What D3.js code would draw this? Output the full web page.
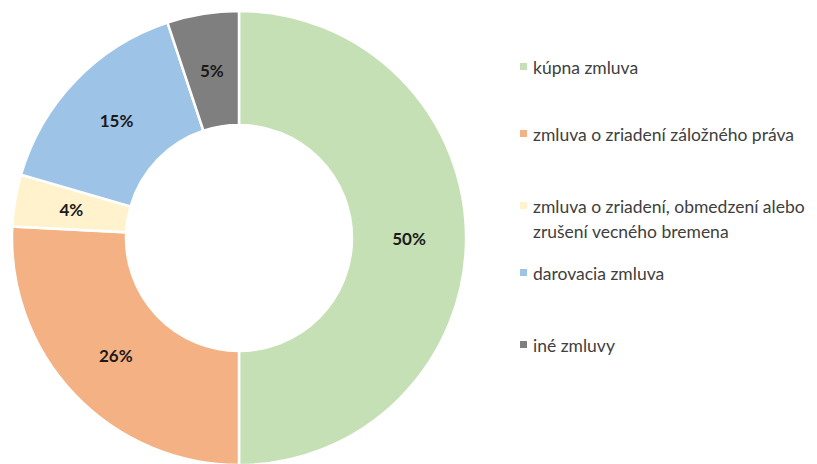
<!DOCTYPE html>
<html>
<head>
<meta charset="utf-8">
<script src="https://cdn.jsdelivr.net/npm/d3@7/dist/d3.min.js"></script>
<style>
  html, body { margin: 0; padding: 0; background: #fff; }
  svg { display: block; font-family: Lato, "Open Sans", sans-serif; }
</style>
</head>
<body>
<svg id="chart" width="817" height="464"></svg>
<script>
// Contract types and their shares (percent)
const categories = [
    'kúpna zmluva',
    'zmluva o zriadení záložného práva',
    'zmluva o zriadení, obmedzení alebo zrušení vecného bremena',
    'darovacia zmluva',
    'iné zmluvy'
];
const values = [50, 25.8, 3.7, 15.4, 5.1];
const colors = ['#C5E0B4', '#F4B183', '#FFF2CC', '#9DC3E6', '#7F7F7F'];
// legend lines (long entry wraps onto two lines)
const legendLines = [
    ['kúpna zmluva'],
    ['zmluva o zriadení záložného práva'],
    ['zmluva o zriadení, obmedzení alebo', 'zrušení vecného bremena'],
    ['darovacia zmluva'],
    ['iné zmluvy']
];
const legendRowY = [67, 134, 206, 273, 345];

const svg = d3.select('#chart');
const cx = 239, cy = 238;
const outerR = 227, innerR = 113;

const data = categories.map((c, i) => ({ name: c, value: values[i], color: colors[i] }));

const pie = d3.pie().sort(null).value(d => d.value);
const arc = d3.arc().innerRadius(innerR).outerRadius(outerR);
const labelArc = d3.arc().innerRadius(170).outerRadius(170);
const total = d3.sum(values);

const g = svg.append('g').attr('transform', `translate(${cx},${cy})`);

const arcs = pie(data);

// Slices
g.selectAll('path')
    .data(arcs)
    .enter()
    .append('path')
    .attr('d', arc)
    .attr('fill', d => d.data.color)
    .attr('stroke', '#fff')
    .attr('stroke-width', 2.5);

// Percent labels
g.selectAll('text.pct')
    .data(arcs)
    .enter()
    .append('text')
    .attr('class', 'pct')
    .attr('x', d => labelArc.centroid(d)[0])
    .attr('y', d => labelArc.centroid(d)[1])
    .attr('text-anchor', 'middle')
    .attr('dominant-baseline', 'central')
    .attr('font-size', 17)
    .attr('font-weight', 'bold')
    .attr('fill', '#1a1a1a')
    .text(d => Math.round(d.data.value / total * 100) + '%');

// Legend
const legend = svg.append('g');
const rows = legend.selectAll('g')
    .data(data)
    .enter()
    .append('g')
    .attr('transform', (d, i) => `translate(520,${legendRowY[i]})`);

rows.append('rect')
    .attr('x', 0)
    .attr('y', -4)
    .attr('width', 7)
    .attr('height', 7)
    .attr('fill', d => d.color);

rows.each(function (d, i) {
    const t = d3.select(this).append('text')
        .attr('x', 13)
        .attr('y', 0)
        .attr('dominant-baseline', 'central')
        .attr('font-size', 17.5)
        .attr('fill', '#404040');
    legendLines[i].forEach((line, j) => {
        t.append('tspan')
            .attr('x', 13)
            .attr('dy', j === 0 ? 0 : 25)
            .text(line);
    });
});
</script>
</body>
</html>
